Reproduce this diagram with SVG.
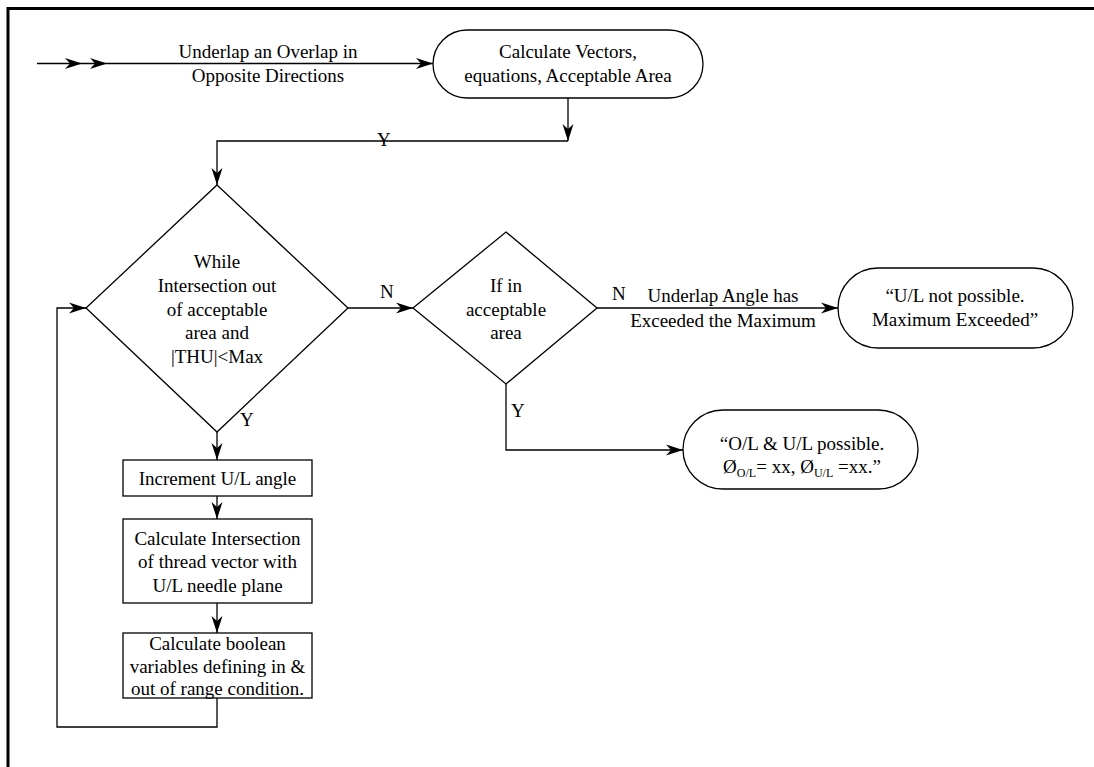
<svg xmlns="http://www.w3.org/2000/svg" width="1094" height="767" viewBox="0 0 1094 767">
<style>
text{font-family:"Liberation Serif","Times New Roman",serif;font-size:19px;fill:#000;text-anchor:middle}
.lbl{text-anchor:start}
.shape{fill:#fff;stroke:#000;stroke-width:1.3}
.conn{fill:none;stroke:#000;stroke-width:1.3}
.sub{font-size:12px}
</style>
<defs>
<marker id="arr" markerUnits="userSpaceOnUse" markerWidth="18" markerHeight="12" refX="17" refY="6" orient="auto">
<path d="M0,0.5 L17,6 L0,11.5 L5,6 z" fill="#000"/>
</marker>
</defs>
<rect width="1094" height="767" fill="#fff"/>
<path d="M8,767 V8.5 H1094" fill="none" stroke="#000" stroke-width="3"/>

<g id="connectors">
<polyline class="conn" points="37,63.5 82,63.5 107,63.5 433,63.5" marker-mid="url(#arr)" marker-end="url(#arr)"/>
<line class="conn" x1="568" y1="98" x2="568" y2="141" marker-end="url(#arr)"/>
<polyline class="conn" points="568,141 217,141 217,185" marker-end="url(#arr)"/>
<line class="conn" x1="348" y1="308" x2="413" y2="308" marker-end="url(#arr)"/>
<line class="conn" x1="597" y1="308" x2="838" y2="308" marker-end="url(#arr)"/>
<polyline class="conn" points="506,384 506,450 683,450" marker-end="url(#arr)"/>
<line class="conn" x1="217" y1="432" x2="217" y2="460" marker-end="url(#arr)"/>
<line class="conn" x1="217" y1="496" x2="217" y2="519" marker-end="url(#arr)"/>
<line class="conn" x1="217" y1="603" x2="217" y2="633" marker-end="url(#arr)"/>
<polyline class="conn" points="217,698 217,727 57,727 57,308 86,308" marker-end="url(#arr)"/>
<text x="268" y="58">Underlap an Overlap in</text>
<text x="268" y="82">Opposite Directions</text>
<text class="lbl" x="377" y="146">Y</text>
<text class="lbl" x="380" y="298">N</text>
<text class="lbl" x="240" y="426">Y</text>
<text class="lbl" x="612" y="300">N</text>
<text x="723" y="302">Underlap Angle has</text>
<text x="723" y="327">Exceeded the Maximum</text>
<text class="lbl" x="511" y="417">Y</text>
</g>

<g id="start">
<rect class="shape" x="433" y="30" width="270" height="68" rx="34" ry="34"/>
<text x="568" y="58">Calculate Vectors,</text>
<text x="568" y="82">equations, Acceptable Area</text>
</g>

<g id="while">
<polygon class="shape" points="217,185 348,308 217,432 86,308"/>
<text x="217" y="268">While</text>
<text x="217" y="292">Intersection out</text>
<text x="217" y="316">of  acceptable</text>
<text x="217" y="339">area and</text>
<text x="217" y="363">|THU|&lt;Max</text>
</g>

<g id="ifin">
<polygon class="shape" points="506,232 597,308 506,384 413,308"/>
<text x="506" y="292">If in</text>
<text x="506" y="316">acceptable</text>
<text x="506" y="339">area</text>
</g>

<g id="notpossible">
<rect class="shape" x="838" y="268" width="235" height="80" rx="40" ry="40"/>
<text x="955" y="302">“U/L not possible.</text>
<text x="955" y="326">Maximum Exceeded”</text>
</g>

<g id="possible">
<rect class="shape" x="683" y="410" width="235" height="79" rx="40" ry="40"/>
<text x="802" y="450">“O/L &amp; U/L possible.</text>
<text x="802" y="473">Ø<tspan class="sub" dy="4">O/L</tspan><tspan dy="-4">= xx, Ø</tspan><tspan class="sub" dy="4">U/L</tspan><tspan dy="-4"> =xx.”</tspan></text>
</g>

<g id="increment">
<rect class="shape" x="123" y="460" width="189" height="36"/>
<text x="217.5" y="485">Increment U/L angle</text>
</g>

<g id="intersection">
<rect class="shape" x="123" y="519" width="189" height="84"/>
<text x="217.5" y="545">Calculate Intersection</text>
<text x="217.5" y="568">of thread vector with</text>
<text x="217.5" y="592">U/L needle plane</text>
</g>

<g id="boolean">
<rect class="shape" x="123" y="633" width="189" height="65"/>
<text x="217.5" y="650">Calculate boolean</text>
<text x="217.5" y="673">variables defining in &amp;</text>
<text x="217.5" y="695">out of range condition.</text>
</g>
</svg>
